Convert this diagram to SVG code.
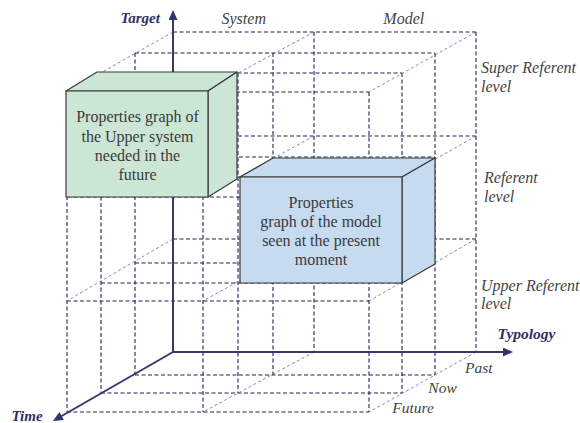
<svg xmlns="http://www.w3.org/2000/svg" width="580" height="423" viewBox="0 0 580 423">
<defs>
<marker id="arr" markerUnits="userSpaceOnUse" markerWidth="10" markerHeight="9" refX="1" refY="4.5" orient="auto">
<path d="M0,0 L10,4.5 L0,9 z" fill="#33336a"/>
</marker>
</defs>
<style>
.g{fill:none;stroke:#23234f;stroke-width:1.1;stroke-dasharray:4 2.5}
.d{fill:none;stroke:#6a6a96;stroke-width:0.8;stroke-dasharray:3 2.5}
.ax{fill:none;stroke:#38386a;stroke-width:2;marker-end:url(#arr)}
.face{stroke:#3a3a3a;stroke-width:1.2;stroke-linejoin:round}
.green{fill:#cce6d5}
.blue{fill:#c6dbf0}
text{font-family:'Liberation Serif','Times New Roman','DejaVu Serif',serif}
.bt{font-size:16px;fill:#3a3a3a;text-anchor:middle}
.lb{font-style:italic;font-size:16px;fill:#444}
.sm{font-size:15.5px}
.ab{font-style:italic;font-weight:bold;font-size:15px;fill:#2f2f66}
</style>
<rect width="580" height="423" fill="#ffffff"/>
<g id="connectors">
<g id="grid">
<path class="g" d="M314,32V352 M476,32V352 M173,32H476 M173,136H476 M173,239H476"/>
<path class="g" d="M135,53V375 M273,53V375 M435,53V375 M135,53H435 M135,157H435 M135,263H435 M135,375H435"/>
<path class="g" d="M101,73V393 M238,73V393 M402,73V393 M101,73H402 M101,177H402 M101,283H402 M101,393H402"/>
<path class="g" d="M67,92V412 M203,92V412 M369,92V412 M67,92H369 M67,197H369 M67,301H369 M67,412H369"/>
</g>
<g id="depth-lines">
<path class="d" d="M173,32L67,92 M314,32L203,92 M476,32L369,92 M173,136L67,197 M314,136L203,197 M476,136L369,197 M173,239L65,302 M314,239L203,301 M476,239L369,301 M314,352L203,412 M476,352L369,412"/>
</g>
<g id="axes">
<path class="ax" d="M173,352V19"/>
<path class="ax" d="M173,352H504"/>
<path class="ax" d="M173,352L60.8,416.5"/>
</g>
</g>
<g id="node-upper-system" font-family="'Liberation Serif', 'Times New Roman', serif">
<polygon class="face green" points="66,91 97,72 237,72 208,91"/>
<polygon class="face green" points="208,91 237,72 237,179 208,197"/>
<rect class="face green" x="66" y="91" width="142" height="106"/>
<text class="bt" x="137.5" y="121.7">Properties graph of</text>
<text class="bt" x="137.5" y="141.5">the Upper system</text>
<text class="bt" x="137.5" y="160.5">needed in the</text>
<text class="bt" x="137.5" y="179.5">future</text>
</g>
<g id="node-model" font-family="'Liberation Serif', 'Times New Roman', serif">
<polygon class="face blue" points="240,177 273,158 435,158 402,177"/>
<polygon class="face blue" points="402,177 435,158 435,264 402,283"/>
<rect class="face blue" x="240" y="177" width="162" height="106"/>
<text class="bt" x="321" y="207.7">Properties</text>
<text class="bt" x="321" y="226.7">graph of the model</text>
<text class="bt" x="321" y="245.7">seen at the present</text>
<text class="bt" x="321" y="265">moment</text>
</g>
<g id="labels" font-family="'Liberation Serif', 'Times New Roman', serif">
<text class="ab" x="120.5" y="23">Target</text>
<text class="ab" x="497.5" y="339" style="font-size:15.5px">Typology</text>
<text class="ab" x="11.5" y="421">Time</text>
<text class="lb" x="221.5" y="23.5">System</text>
<text class="lb" x="383.3" y="23.5">Model</text>
<text class="lb" x="481" y="73.3">Super Referent</text>
<text class="lb" x="481" y="91.5">level</text>
<text class="lb" x="484" y="183.3">Referent</text>
<text class="lb" x="484" y="201.7">level</text>
<text class="lb" x="481" y="290.7">Upper Referent</text>
<text class="lb" x="481" y="308.5">level</text>
<text class="lb sm" x="465" y="373.3">Past</text>
<text class="lb sm" x="428.3" y="392.7">Now</text>
<text class="lb sm" x="392.3" y="412.7">Future</text>
</g>
</svg>
